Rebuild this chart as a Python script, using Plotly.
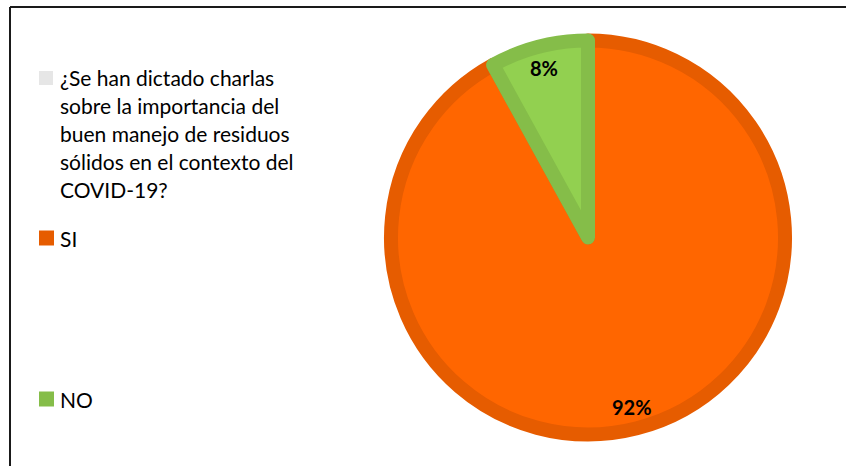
import math
import plotly.graph_objects as go

# ---- data ----
labels = ["SI", "NO"]
values = [92, 8]
pct_text = ["92%", "8%"]
legend_title_lines = [
    "¿Se han dictado charlas",
    "sobre la importancia del",
    "buen manejo de residuos",
    "sólidos en el contexto del",
    "COVID-19?",
]

# ---- styles ----
W, H = 846, 466
fill_colors = ["#FF6600", "#92D050"]
edge_colors = ["#E65C00", "#85BD49"]
legend_sq_colors = ["#E65C00", "#85BD49"]
title_sq_color = "#E6E6E6"
FONT = "Lato"

cx, cy, R = 588, 237.5, 197  # pie geometry in px
line_w = 14

def px(x):
    return x / W

def py(y):
    return 1 - y / H

fig = go.Figure()
fig.add_trace(go.Pie(
    labels=labels, values=values, sort=False, direction="clockwise",
    rotation=0, textinfo="none", hoverinfo="label+percent",
    marker=dict(colors=fill_colors, line=dict(color=edge_colors, width=line_w)),
    domain=dict(x=[px(cx - R), px(cx + R)], y=[py(cy + R), py(cy - R)]),
    showlegend=False,
))

annotations = []
shapes = []

# percentage labels placed at slice mid-angles
total = sum(values)
cum = 0
r_lab = 0.86 * (R + line_w / 2)
for v, t in zip(values, pct_text):
    mid = (cum + v / 2) / total * 2 * math.pi
    cum += v
    lx = cx + r_lab * math.sin(mid)
    ly = cy - r_lab * math.cos(mid)
    annotations.append(dict(x=px(lx), y=py(ly), xref="paper", yref="paper",
                            xanchor="center", yanchor="middle",
                            text=f"<b>{t}</b>", showarrow=False,
                            font=dict(family=FONT, size=20, color="#000000")))

# legend (manual)
tx = 58
line_h = 28
y0 = 77
FS = 21
for i, ln in enumerate(legend_title_lines):
    annotations.append(dict(x=px(tx), y=py(y0 + i * line_h), xref="paper", yref="paper",
                            text=ln, showarrow=False, xanchor="left", yanchor="middle",
                            font=dict(family=FONT, size=FS, color="#000000")))
shapes.append(dict(type="rect", xref="paper", yref="paper",
                   x0=px(39), x1=px(53), y0=py(85), y1=py(71),
                   fillcolor=title_sq_color, line=dict(width=0)))
for lab, col, yc in zip(labels, legend_sq_colors, [238, 399]):
    annotations.append(dict(x=px(tx), y=py(yc), xref="paper", yref="paper",
                            text=lab, showarrow=False, xanchor="left", yanchor="middle",
                            font=dict(family=FONT, size=FS, color="#000000")))
    shapes.append(dict(type="rect", xref="paper", yref="paper",
                       x0=px(39), x1=px(54), y0=py(yc + 7.5), y1=py(yc - 7.5),
                       fillcolor=col, line=dict(width=0)))

# frame
shapes.append(dict(type="line", xref="paper", yref="paper", x0=px(10), x1=px(10),
                   y0=py(7), y1=py(466), line=dict(color="#1a1a1a", width=2)))
shapes.append(dict(type="line", xref="paper", yref="paper", x0=px(10), x1=px(846),
                   y0=py(7), y1=py(7), line=dict(color="#1a1a1a", width=2)))

fig.update_layout(
    width=W, height=H, margin=dict(l=0, r=0, t=0, b=0),
    paper_bgcolor="white", plot_bgcolor="white",
    annotations=annotations, shapes=shapes, showlegend=False,
)
fig.write_html("out.html")
